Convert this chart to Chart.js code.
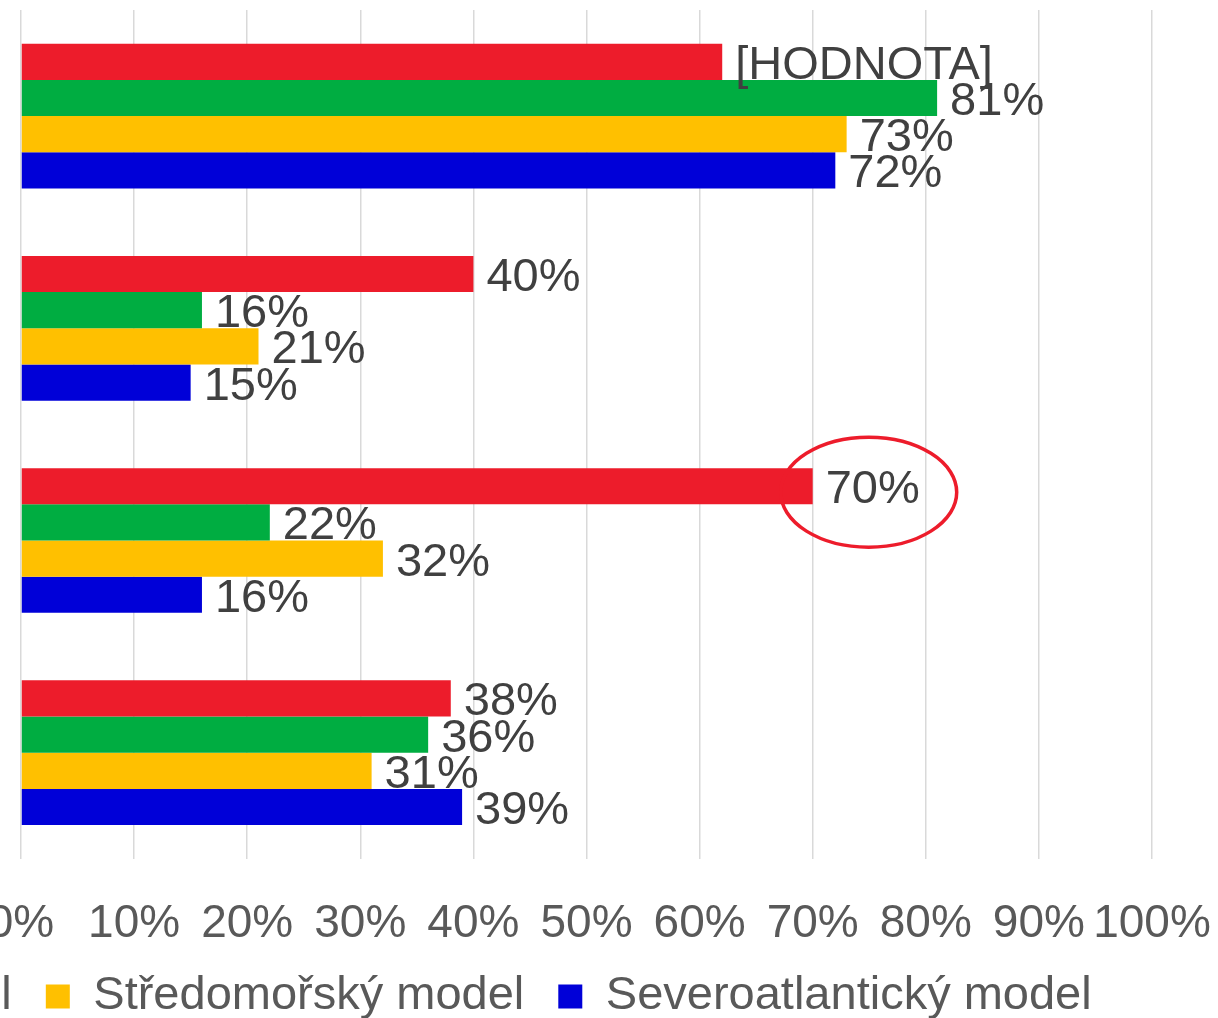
<!DOCTYPE html>
<html>
<head>
<meta charset="utf-8">
<script src="https://cdn.jsdelivr.net/npm/chart.js@4"></script>
<style>
  html, body { margin: 0; padding: 0; background: #fff; overflow: hidden; }
  #wrap { position: absolute; left: -1024px; top: 0; width: 2242px; height: 1081px; }
</style>
</head>
<body>
<div id="wrap"><canvas id="chart"></canvas></div>
<script>
// data
const categories = ['Skupina 1', 'Skupina 2', 'Skupina 3', 'Skupina 4'];
const seriesNames = ['Skandinávský model', 'Kontinentální model', 'Středomořský model', 'Severoatlantický model'];
const redValues = [62, 40, 70, 38];
const greenValues = [81, 16, 22, 36];
const yellowValues = [73, 21, 32, 31];
const blueValues = [72, 15, 16, 39];
// first red label is an unfilled placeholder in the original
const labelOverrides = { '0-0': '[HODNOTA]' };
const xTicks = [0, 10, 20, 30, 40, 50, 60, 70, 80, 90, 100];

const colors = ['#ED1C2B', '#00AD41', '#FFC000', '#0000D8'];
const font = 'Liberation Sans, Arial, sans-serif';

const valueLabels = {
  id: 'valueLabels',
  afterDatasetsDraw(chart) {
    const ctx = chart.ctx;
    ctx.save();
    ctx.font = '47px ' + font;
    ctx.fillStyle = '#404040';
    ctx.textAlign = 'left';
    ctx.textBaseline = 'middle';
    chart.data.datasets.forEach((ds, di) => {
      chart.getDatasetMeta(di).data.forEach((bar, i) => {
        const txt = labelOverrides[di + '-' + i] || ds.data[i] + '%';
        ctx.fillText(txt, bar.x + 13, bar.y + 4);
      });
    });
    // red ring around the 70 % label
    const hl = chart.getDatasetMeta(0).data[2];
    ctx.beginPath();
    ctx.ellipse(hl.x + 56, hl.y + 6, 88, 55, 0, 0, Math.PI * 2);
    ctx.strokeStyle = '#ED1C2B';
    ctx.lineWidth = 3.5;
    ctx.stroke();
    ctx.restore();
  }
};

// legend sits closer to the axis labels than chart.js would put it
const liftLegend = {
  id: 'liftLegend',
  afterLayout(chart) {
    chart.legend.top -= 51;
    chart.legend.bottom -= 51;
  }
};

new Chart(document.getElementById('chart'), {
  type: 'bar',
  data: {
    labels: categories,
    datasets: [redValues, greenValues, yellowValues, blueValues].map((d, i) => ({
      label: seriesNames[i],
      data: d,
      backgroundColor: colors[i],
      borderWidth: 0,
      categoryPercentage: 0.682,
      barPercentage: 1
    }))
  },
  options: {
    indexAxis: 'y',
    responsive: true,
    maintainAspectRatio: false,
    animation: false,
    layout: { padding: { top: 10, right: 66, bottom: 0, left: 0 } },
    plugins: {
      tooltip: { enabled: false },
      legend: {
        position: 'bottom',
        labels: {
          font: { family: font, size: 47 },
          color: '#595959',
          boxWidth: 24,
          boxHeight: 24,
          padding: 34
        }
      }
    },
    scales: {
      x: {
        min: 0,
        max: 100,
        afterBuildTicks: s => { s.ticks = xTicks.map(v => ({ value: v })); },
        afterFit: s => { s.paddingLeft = 0; s.paddingRight = 0; },
        grid: { color: '#D9D9D9', lineWidth: 1.5, drawTicks: false },
        border: { display: false },
        ticks: {
          autoSkip: false,
          maxRotation: 0,
          minRotation: 0,
          padding: 38,
          color: '#595959',
          font: { family: font, size: 46 },
          callback: v => v + '%'
        }
      },
      y: {
        grid: { display: false },
        border: { display: false },
        ticks: { display: false },
        afterFit: s => { s.width = 1045; }
      }
    }
  },
  plugins: [valueLabels, liftLegend]
});
</script>
</body>
</html>
